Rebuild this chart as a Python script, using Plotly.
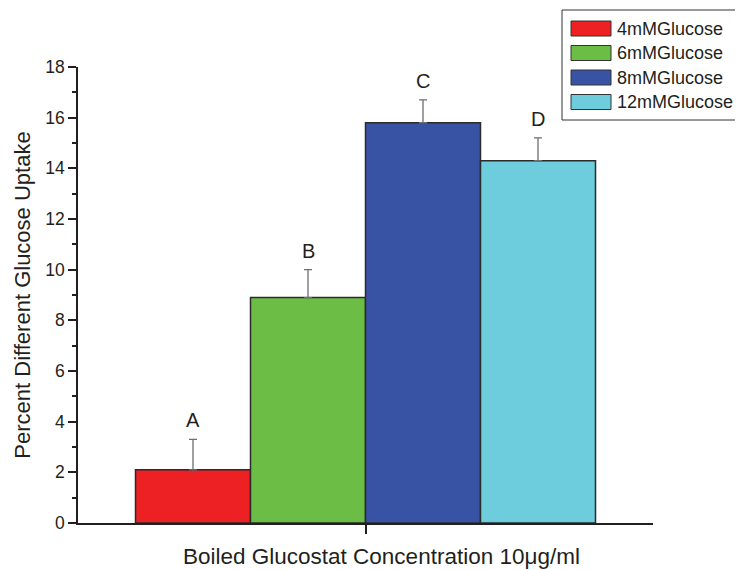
import plotly.graph_objects as go

series = ["4mMGlucose", "6mMGlucose", "8mMGlucose", "12mMGlucose"]
values = [2.1, 8.9, 15.8, 14.3]
errors = [1.2, 1.1, 0.9, 0.9]
letters = ["A", "B", "C", "D"]
colors = ["#ED2024", "#6BBD45", "#3953A4", "#6DCDDD"]
y_ticks = [0, 2, 4, 6, 8, 10, 12, 14, 16, 18]

FONT = "Liberation Sans, Arial, sans-serif"
TXT = "#231F20"
bargap = 0.2

# plot area in page pixels (page has an 8px body margin)
PL, PR, PT, PB = 78, 653, 67, 523
def px(x):
    return (x - PL) / (PR - PL)
def py(y):
    return (PB - y) / (PB - PT)

fig = go.Figure()
for name, v, e, c in zip(series, values, errors, colors):
    fig.add_trace(go.Bar(
        x=[0], y=[v], name=name,
        marker=dict(color=c, line=dict(color="#2B2B2B", width=1.5)),
        error_y=dict(type="data", array=[e], arrayminus=[0], symmetric=False,
                     color="#6D6E71", thickness=1.3, width=4),
        showlegend=False,
    ))

# letters above error bars
n = len(series)
gw = 1 - bargap
for i, (L, v, e) in enumerate(zip(letters, values, errors)):
    xc = -gw / 2 + gw / n * (i + 0.5)
    fig.add_annotation(x=xc, y=v + e, text=L, showarrow=False, yanchor="bottom",
                       yshift=6, font=dict(family=FONT, size=20, color=TXT))

# custom legend
fig.add_shape(type="rect", xref="paper", yref="paper",
              x0=px(562), x1=px(741.5), y0=py(120), y1=py(10),
              line=dict(color="#333333", width=1), fillcolor="white", layer="above")
for i, (name, c) in enumerate(zip(series, colors)):
    yc = 28.5 + i * 24.5
    fig.add_shape(type="rect", xref="paper", yref="paper",
                  x0=px(571), x1=px(611), y0=py(yc + 7.5), y1=py(yc - 7.5),
                  line=dict(color="#333333", width=1), fillcolor=c, layer="above")
    fig.add_annotation(xref="paper", yref="paper", x=px(615), y=py(yc),
                       text=name, showarrow=False, xanchor="left", yanchor="middle",
                       font=dict(family=FONT, size=18, color=TXT))

# x-axis title
fig.add_annotation(xref="paper", yref="paper", x=px(381), y=py(556),
                   text="Boiled Glucostat Concentration 10μg/ml", showarrow=False,
                   xanchor="center", yanchor="middle",
                   font=dict(family=FONT, size=22.5, color=TXT))

fig.update_layout(
    width=735, height=562,
    margin=dict(l=PL - 8, r=743 - PR, t=PT - 8, b=570 - PB, pad=0, autoexpand=False),
    paper_bgcolor="white", plot_bgcolor="white",
    barmode="group", bargap=bargap, bargroupgap=0,
    font=dict(family=FONT, color=TXT),
    xaxis=dict(type="linear", range=[-0.5, 0.5], tickvals=[0], ticktext=[""],
               ticks="outside", ticklen=9, tickwidth=1.5, tickcolor="#231F20",
               showline=True, linecolor="#231F20", linewidth=1.5, showgrid=False,
               zeroline=False),
    yaxis=dict(range=[0, 18], tickvals=y_ticks, ticks="outside", ticklen=8,
               tickwidth=1.5, tickcolor="#231F20",
               minor=dict(dtick=1, ticks="outside", ticklen=4, tickwidth=1.5,
                          tickcolor="#231F20", showgrid=False),
               showline=True, linecolor="#231F20", linewidth=1.5, showgrid=False,
               zeroline=False, tickfont=dict(size=17.5, color=TXT),
               title=dict(text="Percent Different Glucose Uptake",
                          font=dict(size=22, color=TXT), standoff=9)),
)

fig.write_html("out.html")
